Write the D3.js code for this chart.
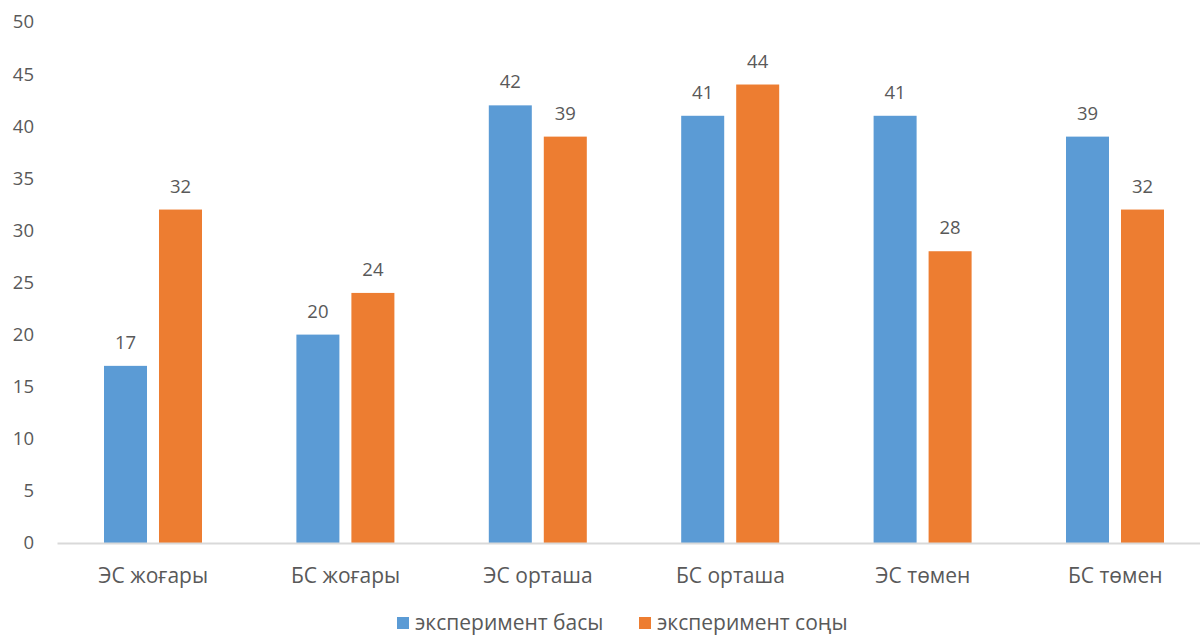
<!DOCTYPE html>
<html>
<head>
<meta charset="utf-8">
<script src="https://cdn.jsdelivr.net/npm/d3@7"></script>
<style>
  body { margin: 0; background: #fff; }
  text { font-family: "Open Sans", "Noto Sans", sans-serif; fill: #595959; }
</style>
</head>
<body>
<div class="visHolder"></div>
<script>
// Chart data
const categories = ["ЭС жоғары", "БС жоғары", "ЭС орташа", "БС орташа", "ЭС төмен", "БС төмен"];
const seriesNames = ["эксперимент басы", "эксперимент соңы"];
const startValues = [17, 20, 42, 41, 41, 39];
const endValues = [32, 24, 39, 44, 28, 32];
const yTicks = [0, 5, 10, 15, 20, 25, 30, 35, 40, 45, 50];
const colors = ["#5b9bd5", "#ed7d31"];

const width = 1200;
const height = 637;

const svg = d3
  .select(".visHolder")
  .append("svg")
  .attr("width", width)
  .attr("height", height);

// Scales
const yScale = d3.scaleLinear().domain([0, 50]).range([543, 22]);

const xScale = d3
  .scaleBand()
  .domain(categories)
  .range([57, 57 + 192.4 * categories.length]);

const inner = d3
  .scaleBand()
  .domain([0, 1])
  .range([47, 145])
  .paddingInner(0.218);

// Y axis labels
const yAxis = d3.axisLeft(yScale).tickValues(yTicks).tickSize(0).tickPadding(0);
const yG = svg.append("g").attr("transform", "translate(34,0)").call(yAxis);
yG.select(".domain").remove();
yG.selectAll("text")
  .style("font-size", "18.5px")
  .style("font-family", "'Open Sans', sans-serif")
  .attr("fill", "#595959");

// Bars
const rows = categories.map((c, i) => ({ cat: c, vals: [startValues[i], endValues[i]] }));

const groups = svg
  .selectAll(".grp")
  .data(rows)
  .enter()
  .append("g")
  .attr("transform", (d) => `translate(${xScale(d.cat)},0)`);

groups
  .selectAll("rect")
  .data((d) => d.vals.map((v, k) => ({ v, k })))
  .enter()
  .append("rect")
  .attr("x", (d) => inner(d.k))
  .attr("width", inner.bandwidth())
  .attr("y", (d) => yScale(d.v))
  .attr("height", (d) => yScale(0) - yScale(d.v))
  .attr("fill", (d) => colors[d.k]);

groups
  .selectAll("text.lbl")
  .data((d) => d.vals.map((v, k) => ({ v, k })))
  .enter()
  .append("text")
  .attr("class", "lbl")
  .attr("x", (d) => inner(d.k) + inner.bandwidth() / 2)
  .attr("y", (d) => yScale(d.v) - 17)
  .attr("text-anchor", "middle")
  .style("font-size", "18.5px")
  .text((d) => d.v);

// X axis
const xAxis = d3.axisBottom(xScale).tickSize(0).tickPadding(0);
const xG = svg.append("g").attr("transform", "translate(0,543)").call(xAxis);
xG.select(".domain").attr("stroke", "#d9d9d9").attr("stroke-width", 2);
xG.selectAll("text")
  .attr("y", 33)
  .attr("dy", "0.35em")
  .style("font-size", "21px")
  .style("font-family", "'Open Sans', sans-serif")
  .attr("fill", "#595959");

// Legend
const legendX = [397, 639];
const legend = svg
  .selectAll(".leg")
  .data(seriesNames)
  .enter()
  .append("g")
  .attr("transform", (d, i) => `translate(${legendX[i]},617)`);

legend.append("rect").attr("width", 12).attr("height", 12).attr("fill", (d, i) => colors[i]);
legend
  .append("text")
  .attr("x", 18)
  .attr("y", 6)
  .attr("dy", "0.35em")
  .style("font-size", "21px")
  .text((d) => d);
</script>
</body>
</html>
